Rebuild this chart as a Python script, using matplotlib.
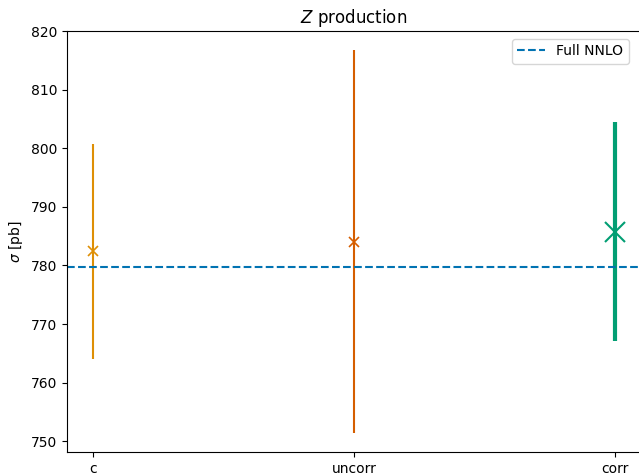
import matplotlib
matplotlib.use("Agg")
import matplotlib.pyplot as plt

# Werte
labels = ["c", "uncorr", "corr"]
sigma = [782.4, 784.1, 785.8]
err = [18.4, 32.7, 18.7]
colors = ["#de8f05", "#d55e00", "#029e73"]
full_nnlo = 779.7

fig = plt.figure(figsize=(6.39, 4.75), dpi=100)
ax = fig.add_axes([67 / 639, 23 / 475, 574 / 639, 421 / 475])

for i in range(len(labels)):
    thick = labels[i] == "corr"
    ax.errorbar(i, sigma[i], yerr=err[i], fmt="x", color=colors[i],
                elinewidth=3 if thick else 1.5,
                markersize=15 if thick else 7,
                mew=1.5 if thick else 1.2)

ax.axhline(full_nnlo, ls="--", color="#0173b2", lw=1.5, label="Full NNLO")
ax.set_xticks(range(len(labels)))
ax.set_xticklabels(labels)
ax.set_ylabel(r"$\sigma$ [pb]")
ax.set_title(r"$Z$ production")
ax.legend(loc="upper right", bbox_to_anchor=(0.991, 0.998))

fig.savefig("out.png", dpi=100)
